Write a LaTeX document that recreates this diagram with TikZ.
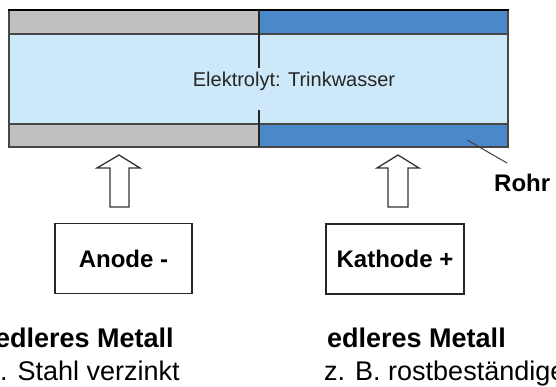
\documentclass[tikz,border=0pt]{standalone}
\usepackage{fontspec}
\setmainfont{Liberation Sans}
\definecolor{wallgray}{RGB}{192,192,192}
\definecolor{wallblue}{RGB}{74,136,202}
\definecolor{water}{RGB}{205,232,248}
\definecolor{edgecol}{RGB}{70,70,70}
\begin{document}
\begin{tikzpicture}[x=1pt,y=-1pt,
  wallline/.style={draw=edgecol,line width=1.6pt},
  labelbox/.style={draw=black!85,line width=1.6pt,minimum width=137pt,minimum height=70pt,inner sep=0pt,font=\fontsize{24}{28}\selectfont\bfseries},
  hollowarrow/.style={draw=black!80,fill=white,line width=1.3pt,line join=miter},
  boldtxt/.style={inner sep=0pt,anchor=base west,font=\fontsize{27}{32}\selectfont\bfseries},
  regtxt/.style={inner sep=0pt,anchor=base west,font=\fontsize{27}{32}\selectfont}]
\useasboundingbox (0,0) rectangle (556,387);
\clip (0,0) rectangle (556,387);
% pipe
\fill[wallgray] (9,10) rectangle (259,34);
\fill[wallblue] (259,10) rectangle (508,34);
\fill[water] (9,34) rectangle (508,124);
\fill[wallgray] (9,124) rectangle (259,147);
\fill[wallblue] (259,124) rectangle (508,147);
\draw[edgecol,line width=1.4pt] (9,10) rectangle (508,147);
\draw[black,line width=2.5pt] (8,10) -- (509,10);
\draw[wallline] (9,34) -- (508,34);
\draw[wallline] (9,124) -- (508,124);
\draw[black!85,line width=1.3pt] (259,10) -- (259,68);
\draw[black!85,line width=1.3pt] (259,110) -- (259,147);
\node[inner sep=0pt,anchor=base,font=\fontsize{20}{24}\selectfont,text=black!85] (elek) at (294,87) {Elektrolyt: Trinkwasser};
% Rohr label
\node[inner sep=0pt,anchor=base west,font=\fontsize{24}{28}\selectfont\bfseries] (rohr) at (494,192) {Rohr};
\coordinate (rohrpt) at (467,140);
\draw[black!75,line width=1pt] (rohrpt) -- (507,163);
% boxes
\node[labelbox] (anode) at (123.5,258.5) {Anode -};
\node[labelbox,minimum width=138pt] (kathode) at (395,259) {Kathode +};
% hollow arrows
\draw[hollowarrow] (119,155) -- (140,168) -- (129,168) -- (129,207) -- (110,207) -- (110,168) -- (97,168) -- cycle;
\draw[hollowarrow] (398,155) -- (419,168) -- (408,168) -- (408,207) -- (388,207) -- (388,168) -- (377,168) -- cycle;
% bottom texts
\node[boldtxt] (l1) at (-5,347) {edleres Metall};
\node[regtxt] (l2) at (0,380) {. Stahl verzinkt};
\node[boldtxt] (r1) at (327,347) {edleres Metall};
\node[regtxt] (r2) at (324,380) {z. B. rostbeständige};
\end{tikzpicture}
\end{document}
